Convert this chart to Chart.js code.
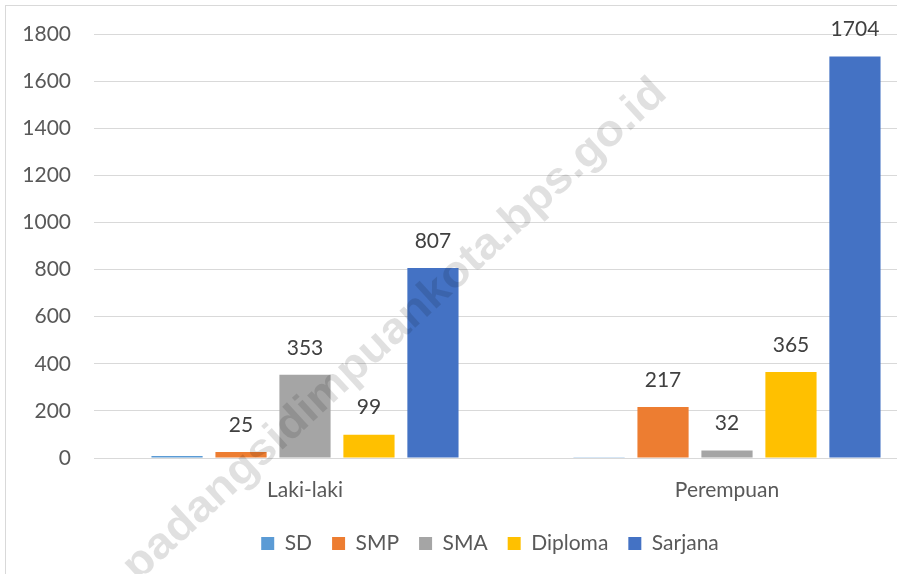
<!DOCTYPE html>
<html>
<head>
<meta charset="utf-8">
<script src="https://cdn.jsdelivr.net/npm/chart.js@4/dist/chart.umd.min.js"></script>
<style>
    html, body { margin: 0; padding: 0; background: #fff; overflow: hidden; }
    #box {
        position: absolute; left: 5px; top: 5px;
        width: 968px; height: 600px;
        border: 1px solid #d9d9d9;
    }
</style>
</head>
<body>
<div id="box"><canvas id="eduChart"></canvas></div>
<script>
// Data
const categories = ['Laki-laki', 'Perempuan'];
const seriesNames = ['SD', 'SMP', 'SMA', 'Diploma', 'Sarjana'];
const sdValues = [8, 3];
const smpValues = [25, 217];
const smaValues = [353, 32];
const diplomaValues = [99, 365];
const sarjanaValues = [807, 1704];
const seriesColors = ['#5B9BD5', '#ED7D31', '#A5A5A5', '#FFC000', '#4472C4'];
const showValue = [false, true, true, true, true]; // SD has no label in the picture
const yMax = 1800;
const yStep = 200;
const watermark = 'padangsidimpuankota.bps.go.id';

const FONT = 'Lato, "Open Sans", sans-serif';

// draws the numbers on top of the bars
const valueLabels = {
    id: 'valueLabels',
    afterDatasetsDraw(chart) {
        const ctx = chart.ctx;
        ctx.save();
        ctx.font = '21px ' + FONT;
        ctx.fillStyle = '#404040';
        ctx.textAlign = 'center';
        ctx.textBaseline = 'middle';
        chart.data.datasets.forEach((ds, i) => {
            if (!showValue[i]) return;
            chart.getDatasetMeta(i).data.forEach((bar, j) => {
                ctx.fillText(ds.data[j], bar.x, bar.y - 27);
            });
        });
        ctx.restore();
    }
};

// the site stamp across the picture
const stamp = {
    id: 'stamp',
    afterDraw(chart) {
        const ctx = chart.ctx;
        ctx.save();
        ctx.translate(389, 324);
        ctx.rotate(-42.5 * Math.PI / 180);
        ctx.font = 'bold 44px "Liberation Sans", Arial, sans-serif';
        const w = ctx.measureText(watermark).width;
        ctx.scale(720 / w, 1);
        ctx.fillStyle = 'rgba(0,0,0,0.12)';
        ctx.textAlign = 'center';
        ctx.textBaseline = 'middle';
        ctx.fillText(watermark, 0, 0);
        ctx.restore();
    }
};

const allValues = [sdValues, smpValues, smaValues, diplomaValues, sarjanaValues];

new Chart(document.getElementById('eduChart'), {
    type: 'bar',
    data: {
        labels: categories,
        datasets: seriesNames.map((name, i) => ({
            label: name,
            data: allValues[i],
            backgroundColor: seriesColors[i],
            borderWidth: 0,
            categoryPercentage: 0.758,
            barPercentage: 0.8
        }))
    },
    options: {
        responsive: true,
        maintainAspectRatio: false,
        animation: false,
        layout: { padding: { top: 28, right: 0, bottom: 42, left: 0 } },
        plugins: {
            tooltip: { enabled: false },
            legend: {
                position: 'bottom',
                labels: {
                    boxWidth: 13,
                    boxHeight: 13,
                    padding: 20,
                    color: '#595959',
                    font: { family: FONT, size: 21 }
                }
            }
        },
        scales: {
            x: {
                grid: { display: false, drawTicks: false },
                border: { color: '#d9d9d9', width: 1 },
                ticks: { color: '#595959', padding: 20, font: { family: FONT, size: 21 } },
                afterFit(scale) { scale.height = 55; }
            },
            y: {
                min: 0,
                max: yMax,
                grid: { color: '#d9d9d9', lineWidth: 1, drawTicks: false },
                border: { display: false },
                ticks: {
                    stepSize: yStep,
                    color: '#595959',
                    padding: 23,
                    font: { family: FONT, size: 21 },
                    callback: (v) => String(v)
                },
                afterFit(scale) {
                    scale.width = 88;
                    scale.paddingTop = 0;
                    scale.paddingBottom = 0;
                }
            },
            // empty strip on the right, only keeps the plot edge where it is
            yRight: {
                type: 'linear',
                position: 'right',
                grid: { display: false, drawTicks: false },
                border: { display: false },
                ticks: { display: false },
                afterFit(scale) {
                    scale.width = 36;
                    scale.paddingTop = 0;
                    scale.paddingBottom = 0;
                }
            }
        }
    },
    plugins: [valueLabels, stamp]
});
</script>
</body>
</html>
